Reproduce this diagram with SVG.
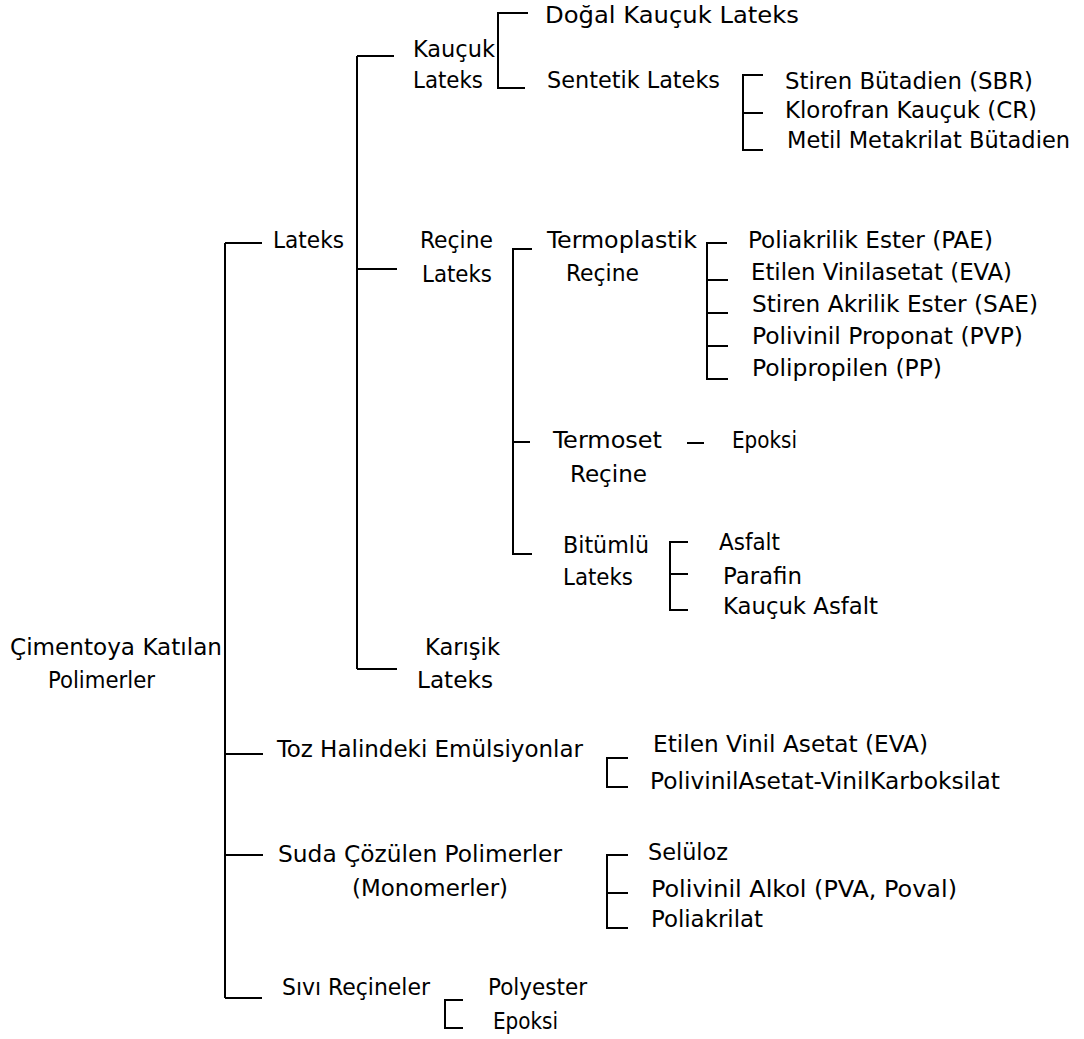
<svg xmlns="http://www.w3.org/2000/svg" width="1084" height="1039" viewBox="0 0 1084 1039">
<style>
.t{font-family:"Liberation Sans Narrow","DejaVu Sans Condensed","Liberation Sans",sans-serif;font-size:23px;fill:#000}
.c{fill:none;stroke:#000;stroke-width:2}
</style>
<rect width="1084" height="1039" fill="#fff"/>
<g id="connectors" class="c">
<path d="M225 243V998M225 243H262M225 754H263M225 855H263M225 998H262"/>
<path d="M357 56V669M357 56H394M357 269H397M357 669H397"/>
<path d="M528 13H498V88H525"/>
<path d="M763 75H743V150H763M743 113H763"/>
<path d="M532 249H513V554H532M513 442H530"/>
<path d="M727 243H707V379H728M707 280H728M707 313H728M707 346H728"/>
<path d="M687 443H704"/>
<path d="M688 542H670V610H688M670 574H688"/>
<path d="M628 758H607V787H628"/>
<path d="M628 855H607V928H628M607 893H628"/>
<path d="M463 1000H445V1028H463"/>
</g>
<g id="root"><text class="t" x="10" y="655" textLength="212" lengthAdjust="spacingAndGlyphs">Çimentoya Katılan</text><text class="t" x="48" y="688" textLength="107" lengthAdjust="spacingAndGlyphs">Polimerler</text></g>
<g id="lateks"><text class="t" x="273" y="248" textLength="71" lengthAdjust="spacingAndGlyphs">Lateks</text></g>
<g id="kaucuk-lateks"><text class="t" x="413" y="57" textLength="82" lengthAdjust="spacingAndGlyphs">Kauçuk</text><text class="t" x="413" y="88" textLength="70" lengthAdjust="spacingAndGlyphs">Lateks</text></g>
<g id="dogal"><text class="t" x="545" y="23" textLength="254" lengthAdjust="spacingAndGlyphs">Doğal Kauçuk Lateks</text></g>
<g id="sentetik"><text class="t" x="547" y="88" textLength="173" lengthAdjust="spacingAndGlyphs">Sentetik Lateks</text></g>
<g id="sbr"><text class="t" x="785" y="89" textLength="248" lengthAdjust="spacingAndGlyphs">Stiren Bütadien (SBR)</text></g>
<g id="cr"><text class="t" x="785" y="118" textLength="252" lengthAdjust="spacingAndGlyphs">Klorofran Kauçuk (CR)</text></g>
<g id="mmb"><text class="t" x="787" y="148" textLength="283" lengthAdjust="spacingAndGlyphs">Metil Metakrilat Bütadien</text></g>
<g id="recine-lateks"><text class="t" x="420" y="248" textLength="73" lengthAdjust="spacingAndGlyphs">Reçine</text><text class="t" x="422" y="282" textLength="70" lengthAdjust="spacingAndGlyphs">Lateks</text></g>
<g id="termoplastik"><text class="t" x="547" y="248" textLength="150" lengthAdjust="spacingAndGlyphs">Termoplastik</text><text class="t" x="566" y="281" textLength="73" lengthAdjust="spacingAndGlyphs">Reçine</text></g>
<g id="pae"><text class="t" x="748" y="248" textLength="245" lengthAdjust="spacingAndGlyphs">Poliakrilik Ester (PAE)</text></g>
<g id="eva1"><text class="t" x="751" y="280" textLength="261" lengthAdjust="spacingAndGlyphs">Etilen Vinilasetat (EVA)</text></g>
<g id="sae"><text class="t" x="752" y="312" textLength="286" lengthAdjust="spacingAndGlyphs">Stiren Akrilik Ester (SAE)</text></g>
<g id="pvp"><text class="t" x="752" y="344" textLength="271" lengthAdjust="spacingAndGlyphs">Polivinil Proponat (PVP)</text></g>
<g id="pp"><text class="t" x="752" y="376" textLength="190" lengthAdjust="spacingAndGlyphs">Polipropilen (PP)</text></g>
<g id="termoset"><text class="t" x="553" y="448" textLength="109" lengthAdjust="spacingAndGlyphs">Termoset</text><text class="t" x="570" y="482" textLength="77" lengthAdjust="spacingAndGlyphs">Reçine</text></g>
<g id="epoksi1"><text class="t" x="732" y="448" textLength="65" lengthAdjust="spacingAndGlyphs">Epoksi</text></g>
<g id="bitumlu"><text class="t" x="563" y="553" textLength="86" lengthAdjust="spacingAndGlyphs">Bitümlü</text><text class="t" x="563" y="585" textLength="70" lengthAdjust="spacingAndGlyphs">Lateks</text></g>
<g id="asfalt"><text class="t" x="719" y="550" textLength="61" lengthAdjust="spacingAndGlyphs">Asfalt</text></g>
<g id="parafin"><text class="t" x="723" y="584" textLength="79" lengthAdjust="spacingAndGlyphs">Parafin</text></g>
<g id="kaucuk-asfalt"><text class="t" x="723" y="614" textLength="155" lengthAdjust="spacingAndGlyphs">Kauçuk Asfalt</text></g>
<g id="karisik"><text class="t" x="425" y="655" textLength="75" lengthAdjust="spacingAndGlyphs">Karışik</text><text class="t" x="417" y="688" textLength="76" lengthAdjust="spacingAndGlyphs">Lateks</text></g>
<g id="toz"><text class="t" x="277" y="757" textLength="306" lengthAdjust="spacingAndGlyphs">Toz Halindeki Emülsiyonlar</text></g>
<g id="eva2"><text class="t" x="653" y="752" textLength="275" lengthAdjust="spacingAndGlyphs">Etilen Vinil Asetat (EVA)</text></g>
<g id="pvac"><text class="t" x="650" y="789" textLength="350" lengthAdjust="spacingAndGlyphs">PolivinilAsetat-VinilKarboksilat</text></g>
<g id="suda"><text class="t" x="278" y="862" textLength="284" lengthAdjust="spacingAndGlyphs">Suda Çözülen Polimerler</text><text class="t" x="352" y="896" textLength="156" lengthAdjust="spacingAndGlyphs">(Monomerler)</text></g>
<g id="seluloz"><text class="t" x="648" y="860" textLength="80" lengthAdjust="spacingAndGlyphs">Selüloz</text></g>
<g id="pva"><text class="t" x="651" y="897" textLength="306" lengthAdjust="spacingAndGlyphs">Polivinil Alkol (PVA, Poval)</text></g>
<g id="poliakrilat"><text class="t" x="651" y="927" textLength="112" lengthAdjust="spacingAndGlyphs">Poliakrilat</text></g>
<g id="sivi"><text class="t" x="282" y="995" textLength="148" lengthAdjust="spacingAndGlyphs">Sıvı Reçineler</text></g>
<g id="polyester"><text class="t" x="488" y="995" textLength="99" lengthAdjust="spacingAndGlyphs">Polyester</text></g>
<g id="epoksi2"><text class="t" x="493" y="1029" textLength="65" lengthAdjust="spacingAndGlyphs">Epoksi</text></g>
</svg>
